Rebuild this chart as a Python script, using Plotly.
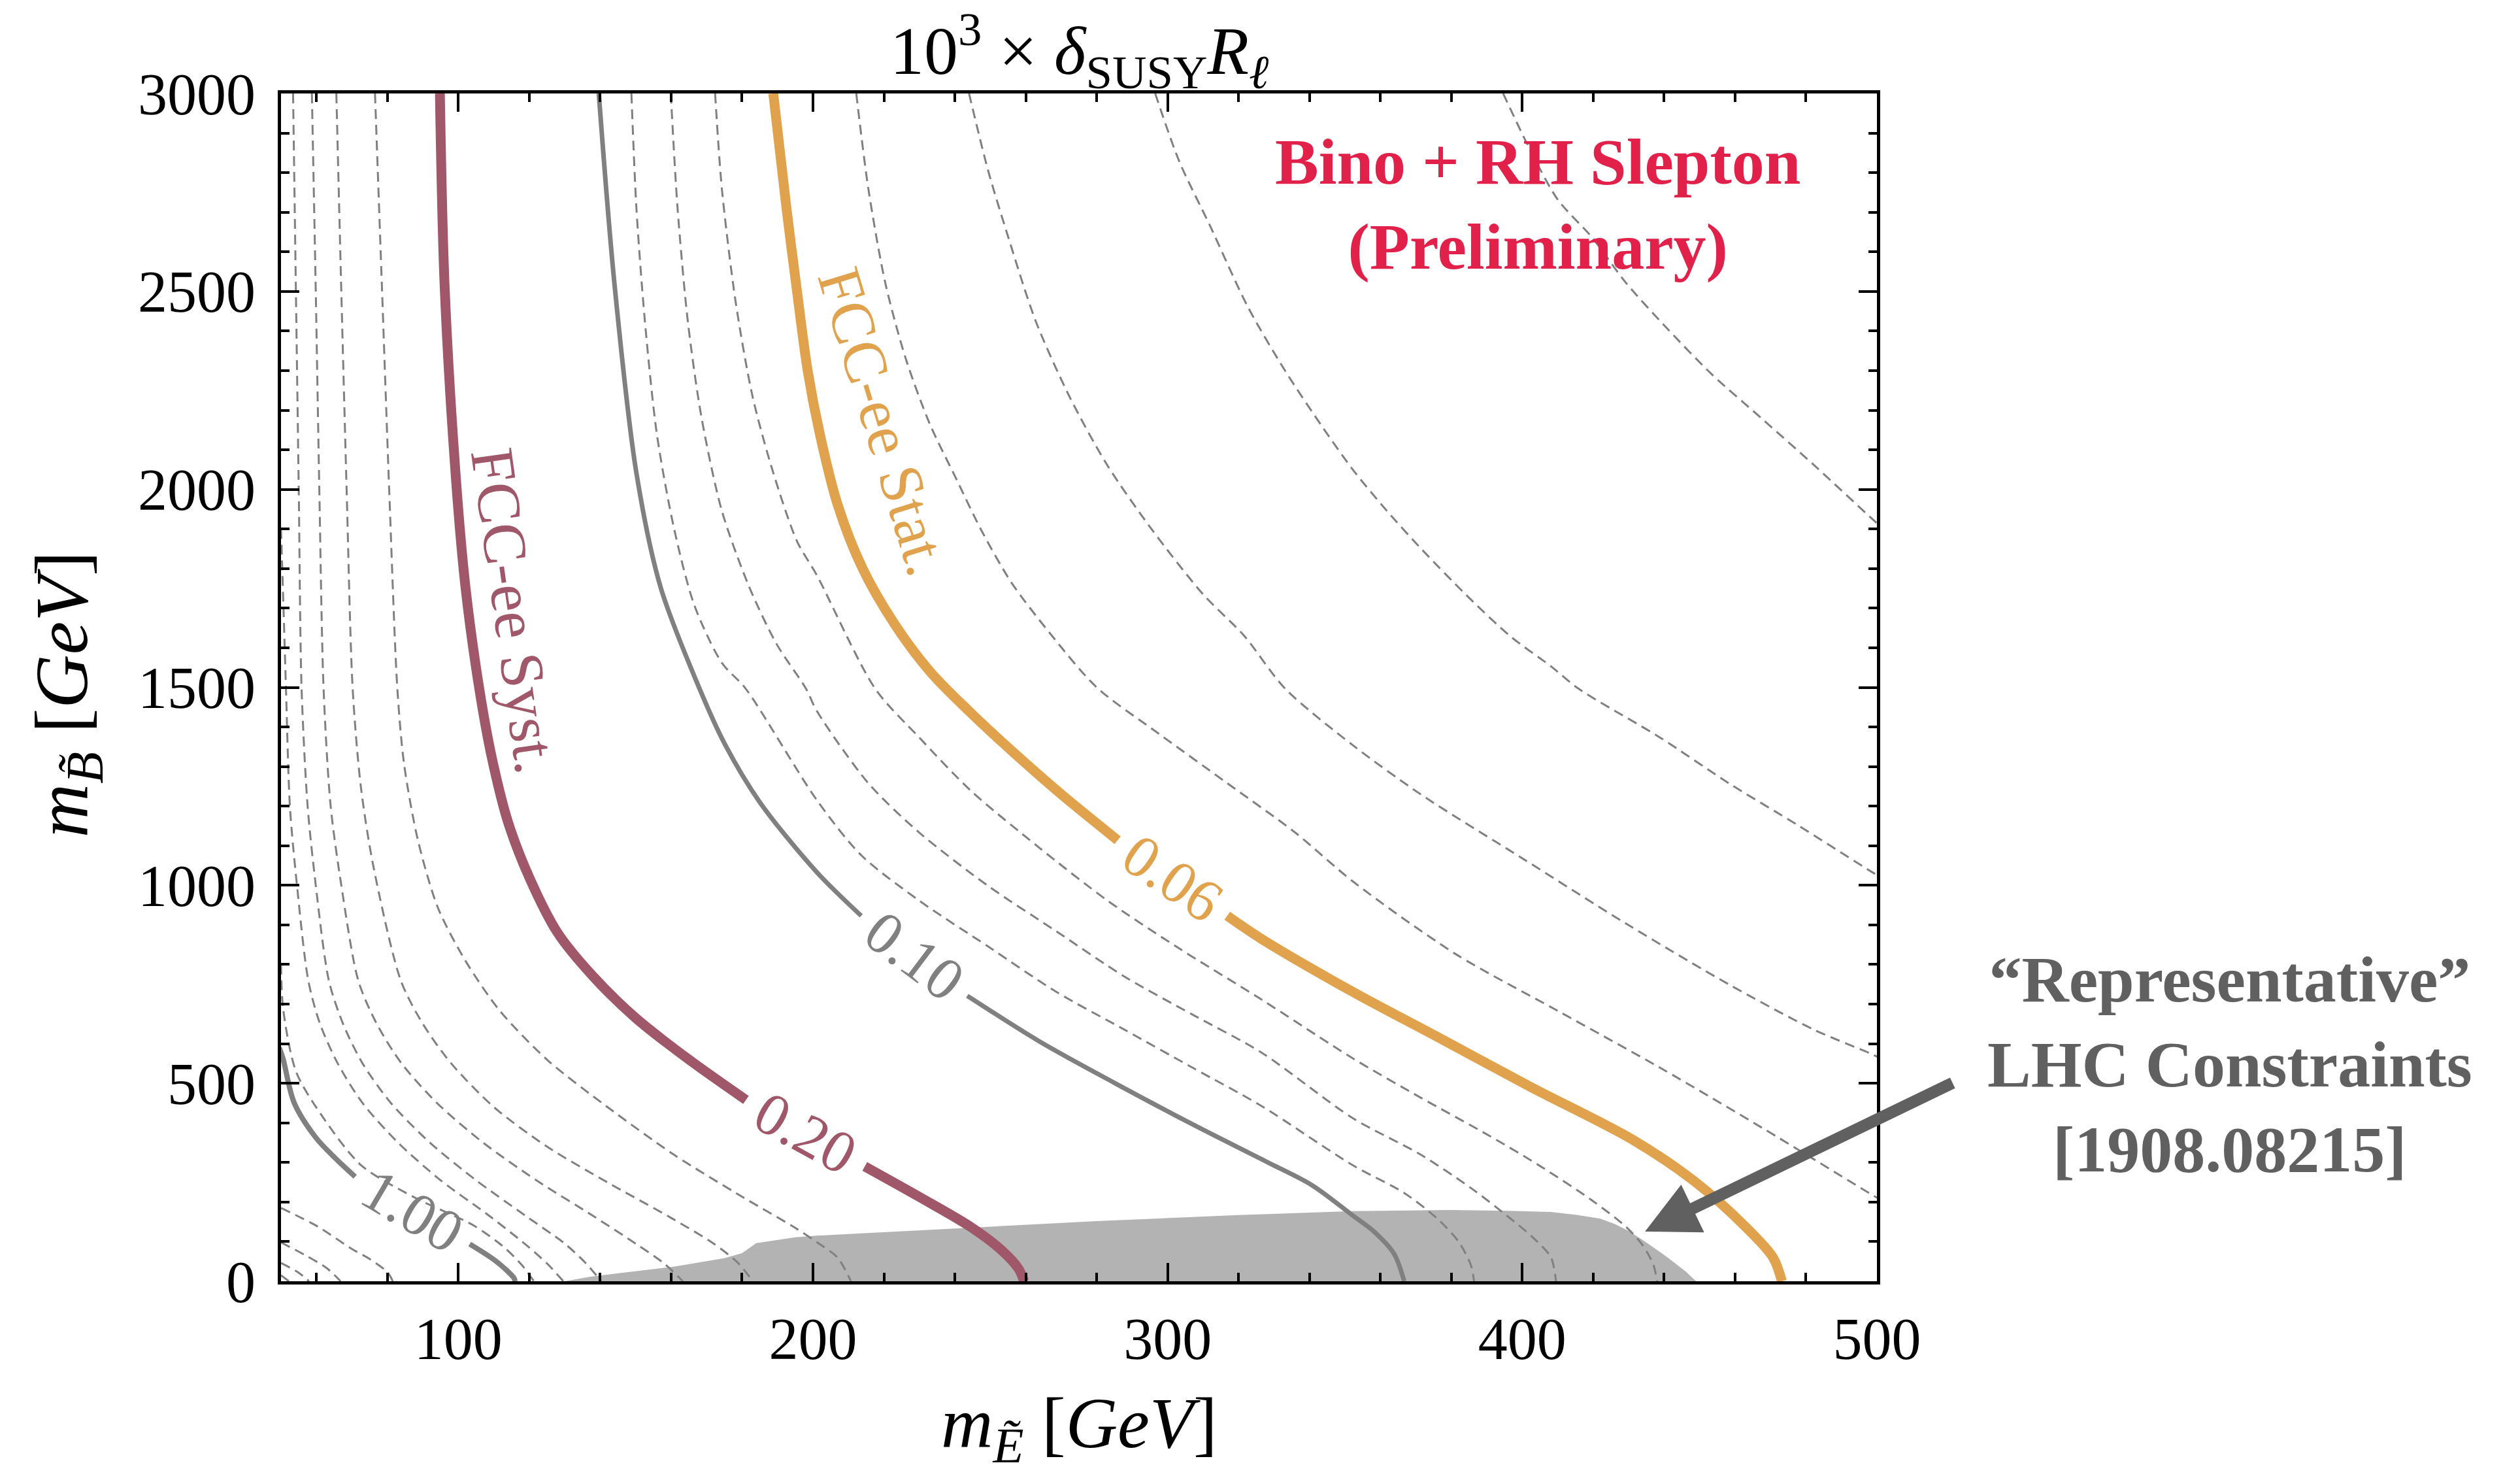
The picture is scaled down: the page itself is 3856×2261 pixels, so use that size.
import plotly.graph_objects as go

FONT = "Liberation Serif, DejaVu Serif, serif"

# ---------------- axes ----------------
x_range = [50, 500]
y_range = [0, 3000]
x_ticks = [100, 200, 300, 400, 500]
y_ticks = [0, 500, 1000, 1500, 2000, 2500, 3000]

# ---------------- LHC excluded region ----------------
lhc_x = [130, 137, 146, 161, 175, 180, 184, 195, 201, 240, 280, 320, 352, 380, 396, 408, 415, 422, 426, 430, 435, 441, 446, 449, 130]
lhc_y = [0, 11, 21, 37, 58, 71, 96, 111, 115, 133, 152, 167, 177, 180, 178, 175, 168, 158, 145, 127, 98, 60, 25, 0, 0]

# ---------------- solid (labelled) contours ----------------
c100_x_a = [49.5, 50.6, 53.7, 59.8, 65.4, 70.9]
c100_y_a = [590, 561, 451, 363, 310, 264]
c100_x_b = [103.2, 110.8, 115.7, 116.0]
c100_y_b = [94, 49.5, 8, 0]

c020_x_a = [94.8, 96.1, 99.2, 102.0, 105.9, 109.5, 114.0, 120.0, 128.0, 138.0, 150.0, 165.0, 181.1]
c020_y_a = [3000, 2521, 2042, 1754, 1497, 1320, 1160, 1020, 880, 770, 665, 560, 458]
c020_x_b = [214.6, 230.0, 244.5, 253.1, 258.0, 259.5]
c020_y_b = [290, 213, 137, 79, 31, 0]

c010_x_a = [139.6, 144.0, 150.2, 157.0, 168.0, 175.3, 185.0, 201.1, 213.6]
c010_y_a = [3000, 2521, 2042, 1754, 1497, 1354, 1210, 1033, 923]
c010_x_b = [243.5, 263.8, 285.0, 307.1, 328.3, 340.8, 352.2, 358.0, 363.8, 366.7]
c010_y_b = [721, 606, 501, 396, 300, 242, 166, 127, 70, 0]

c006_x_a = [188.8, 192.5, 195.5, 198.5, 202.0, 207.0, 214.0, 223.0, 233.0, 244.0, 256.0, 270.0, 285.9]
c006_y_a = [3000, 2712, 2500, 2300, 2137, 1960, 1800, 1660, 1540, 1440, 1340, 1230, 1114]
c006_x_b = [316.8, 326.4, 352.2, 376.3, 402.3, 431.2, 448.6, 463.0, 470.7, 473.2]
c006_y_b = [923, 865, 731, 616, 491, 357, 252, 137, 60, 0]

# ---------------- dashed contours ----------------
d_c1_x = [50, 60.4, 69.7, 75.2, 80.1, 81.5]
d_c1_y = [185, 138, 83, 55, 22, 0]
d_c2_x = [50, 56.8, 62.9, 66.8]
d_c2_y = [98, 66, 33, 0]
d_c3_x = [50, 54.9, 57.9]
d_c3_y = [46, 22, 0]
d_c4_x = [50, 52.2]
d_c4_y = [15, 0]

d_l1_x = [50, 50.6, 54.3, 62.3, 72.7, 88, 104.5, 113, 118, 121.3]
d_l1_y = [800, 688, 528, 408, 292, 210, 140, 85, 40, 0]
d_l2_x = [50, 50.7, 51.4, 52.5, 54.5, 57.7, 61, 66, 73, 83, 95, 108, 118, 125, 129.6]
d_l2_y = [1900, 1700, 1497, 1200, 1000, 759, 650, 550, 450, 350, 255, 170, 100, 45, 0]
d_t1_x = [53.4, 54.2, 55.0, 55.8, 57.5, 59.8, 63.5, 67.5, 73, 81, 92, 105, 119, 130, 136, 140.3]
d_t1_y = [3000, 2500, 2000, 1497, 1200, 1000, 759, 650, 550, 450, 350, 255, 165, 95, 45, 0]
d_t2_x = [58.7, 59.8, 60.8, 62.0, 64, 67, 71.8, 77, 84, 94, 107, 122, 138, 150, 158, 163.3]
d_t2_y = [3000, 2500, 2000, 1497, 1200, 1000, 759, 650, 550, 450, 350, 255, 165, 95, 45, 0]
d_t3_x = [65.6, 67.0, 68.5, 70.2, 72.5, 76, 83.8, 90, 98, 110, 125, 142, 160, 172, 179, 183]
d_t3_y = [3000, 2500, 2000, 1497, 1250, 1050, 759, 650, 550, 440, 340, 250, 160, 95, 45, 0]
d_t4_x = [76.5, 78.5, 80.5, 82.8, 84.7, 88.6, 94.3, 102.1, 111.7, 125.2, 141.6, 160.9, 180.1, 194.6, 201.1, 206.9, 210.7]
d_t4_y = [3000, 2500, 2000, 1497, 1306, 1114, 942, 808, 683, 558, 443, 319, 213, 137, 98.5, 60, 0]

d_g1_x = [148.8, 150.2, 152.6, 156.0, 160.9, 166.6, 174.3, 181.0, 201.1, 213.6, 230.0, 249.3, 268.6, 287.9, 307.1, 326.4, 352.2, 366.7, 376.3, 382.1, 385.5, 386.4]
d_g1_y = [3000, 2712, 2425, 2138, 1898, 1706, 1562, 1497, 1215, 1076, 961, 846, 731, 635, 539, 443, 293, 223, 156, 99, 41, 0]
d_g2_x = [159.9, 161.8, 164.7, 168.5, 174.3, 182.0, 189.7, 198.0, 201.1, 215.6, 230.0, 249.3, 268.6, 287.9, 307.1, 326.4, 352.2, 371.5, 385.9, 395.6, 403.3, 408.1, 409.5]
d_g2_y = [3000, 2712, 2425, 2185, 1946, 1754, 1610, 1497, 1440, 1258, 1133, 999, 884, 769, 673, 578, 412, 319, 233, 166, 108, 60, 0]
d_g3_x = [172.4, 174.3, 178.2, 183.0, 188.8, 195.5, 201.1, 217.5, 230.0, 244.5, 263.8, 283.1, 302.3, 326.4, 352.2, 371.5, 390.8, 405.2, 419.7, 429.3, 434.1, 437.0, 438.0]
d_g3_y = [3000, 2760, 2473, 2233, 2042, 1869, 1783, 1497, 1373, 1239, 1095, 961, 846, 712, 563, 463, 367, 290, 204, 137, 89, 41, 0]

d_r1_x = [212.2, 215.6, 220.4, 226.2, 232.9, 240.6, 247.4, 256.0, 266.6, 280.0, 297.5, 316.8, 336.0, 352.2, 381.1, 410.0, 438.9, 467.9, 498.7, 505]
d_r1_y = [3000, 2760, 2521, 2329, 2166, 2023, 1898, 1764, 1639, 1500, 1383, 1258, 1133, 1010, 827, 683, 539, 386, 218, 185]
d_r2_x = [244.0, 249.3, 255.1, 262.8, 272.4, 283.0, 295.6, 310.0, 321.6, 333.1, 352.2, 371.5, 400.4, 429.3, 458.2, 482.3, 498.7, 505]
d_r2_y = [3000, 2808, 2636, 2425, 2233, 2061, 1898, 1735, 1630, 1497, 1354, 1229, 1066, 903, 750, 635, 573, 545]
d_r3_x = [296.5, 303.3, 312.0, 322.5, 333.1, 343.7, 352.2, 361.8, 371.5, 384.0, 396.5, 408.1, 415.8, 438.9, 458.2, 477.5, 498.7, 505]
d_r3_y = [3000, 2828, 2665, 2463, 2300, 2157, 2050, 1946, 1850, 1735, 1630, 1553, 1497, 1373, 1258, 1153, 1033, 1000]
d_r4_x = [394.6, 402.3, 410.0, 419.7, 429.3, 440.9, 453.4, 467.9, 482.3, 499.7, 505]
d_r4_y = [3000, 2856, 2732, 2636, 2521, 2406, 2291, 2176, 2061, 1917, 1875]

# contour value labels: text, x, y, angle
label_text = ["1.00", "0.20", "0.10", "0.06"]
label_x = [87.1, 197.8, 228.6, 301.4]
label_y = [179, 374, 822, 1019]
label_angle = [30.5, 29, 37, 34.6]

MAROON = "#A05769"
ORANGE = "#E0A24C"
GRAY = "#808080"
LABEL_COLORS = [GRAY, MAROON, GRAY, ORANGE]

fig = go.Figure()

fig.add_trace(go.Scatter(x=lhc_x, y=lhc_y, fill="toself", fillcolor="#B3B3B3",
                         mode="lines", line=dict(width=0), hoverinfo="skip", showlegend=False))

dashed = [
    (d_c1_x, d_c1_y), (d_c2_x, d_c2_y), (d_c3_x, d_c3_y), (d_c4_x, d_c4_y),
    (d_l1_x, d_l1_y), (d_l2_x, d_l2_y), (d_t1_x, d_t1_y), (d_t2_x, d_t2_y),
    (d_t3_x, d_t3_y), (d_t4_x, d_t4_y), (d_g1_x, d_g1_y), (d_g2_x, d_g2_y),
    (d_g3_x, d_g3_y), (d_r1_x, d_r1_y), (d_r2_x, d_r2_y), (d_r3_x, d_r3_y),
    (d_r4_x, d_r4_y),
]
for xs, ys in dashed:
    fig.add_trace(go.Scatter(x=xs, y=ys, mode="lines",
                             line=dict(color=GRAY, width=3, dash="15px,9px", shape="spline", smoothing=0.8),
                             hoverinfo="skip", showlegend=False))

solid = [
    (c100_x_a, c100_y_a, GRAY, 8), (c100_x_b, c100_y_b, GRAY, 8),
    (c010_x_a, c010_y_a, GRAY, 7), (c010_x_b, c010_y_b, GRAY, 7),
    (c020_x_a, c020_y_a, MAROON, 15), (c020_x_b, c020_y_b, MAROON, 15),
    (c006_x_a, c006_y_a, ORANGE, 15), (c006_x_b, c006_y_b, ORANGE, 15),
]
for xs, ys, col, w in solid:
    fig.add_trace(go.Scatter(x=xs, y=ys, mode="lines",
                             line=dict(color=col, width=w, shape="spline", smoothing=0.9),
                             hoverinfo="skip", showlegend=False))

annotations = []
for t, x, y, a, c in zip(label_text, label_x, label_y, label_angle, LABEL_COLORS):
    annotations.append(dict(x=x, y=y, xref="x", yref="y", text=t, showarrow=False,
                            textangle=a, xanchor="center", yanchor="middle",
                            font=dict(family=FONT, size=92, color=c)))

annotations.append(dict(x=115.8, y=1694, xref="x", yref="y", text="FCC-ee Syst.", showarrow=False,
                        textangle=82, xanchor="center", yanchor="middle",
                        font=dict(family=FONT, size=94, color=MAROON)))
annotations.append(dict(x=219.9, y=2171, xref="x", yref="y", text="FCC-ee Stat.", showarrow=False,
                        textangle=73, xanchor="center", yanchor="middle",
                        font=dict(family=FONT, size=94, color=ORANGE)))

# title
annotations.append(dict(x=0.5, y=1.036, xref="paper", yref="paper", showarrow=False,
                        xanchor="center", yanchor="middle",
                        text="10<sup>3</sup> × <i>δ</i><sub>SUSY</sub><i>R</i><sub><i>ℓ</i></sub>",
                        font=dict(family=FONT, size=104, color="black")))
# axis titles
annotations.append(dict(x=0.5, y=-0.124, xref="paper", yref="paper", showarrow=False,
                        xanchor="center", yanchor="middle",
                        text="<i>m</i><sub><i>Ẽ</i></sub> [<i>GeV</i>]",
                        font=dict(family=FONT, size=110, color="black")))
annotations.append(dict(x=-0.134, y=0.494, xref="paper", yref="paper", showarrow=False,
                        xanchor="center", yanchor="middle", textangle=-90,
                        text="<i>m</i><sub><i>B̃</i></sub> [<i>GeV</i>]",
                        font=dict(family=FONT, size=114, color="black")))
# model text
annotations.append(dict(x=0.7875, y=0.9067, xref="paper", yref="paper", showarrow=False,
                        xanchor="center", yanchor="middle",
                        text="<b>Bino + RH Slepton</b><br><b>(Preliminary)</b>",
                        font=dict(family=FONT, size=100, color="#E1214A")))
# LHC text
annotations.append(dict(x=1.221, y=0.1827, xref="paper", yref="paper", showarrow=False,
                        xanchor="center", yanchor="middle",
                        text="<b>“Representative”</b><br><b>LHC Constraints</b><br><b>[1908.08215]</b>",
                        font=dict(family=FONT, size=100, color="#606060")))
# arrow
annotations.append(dict(x=434.6, y=125.5, ax=521.6, ay=502, xref="x", yref="y", axref="x", ayref="y",
                        text="", showarrow=True, arrowhead=2, arrowsize=0.9, arrowwidth=18,
                        arrowcolor="#606060"))

axis_common = dict(showgrid=False, zeroline=False, showline=True, linewidth=5, linecolor="black",
                   mirror="allticks", ticks="inside", ticklen=28, tickwidth=4, tickcolor="black",
                   tickfont=dict(family=FONT, size=90, color="black"))

fig.update_layout(
    width=3856, height=2261,
    margin=dict(l=430, r=984, t=143, b=301),
    paper_bgcolor="white", plot_bgcolor="white",
    showlegend=False,
    annotations=annotations,
    xaxis=dict(range=x_range, tickvals=x_ticks, ticklabelstandoff=6,
               minor=dict(tick0=0, dtick=20, ticks="inside", ticklen=13, tickwidth=3.5, tickcolor="black"),
               **axis_common),
    yaxis=dict(range=y_range, tickvals=y_ticks, ticklabelstandoff=16,
               minor=dict(tick0=0, dtick=100, ticks="inside", ticklen=13, tickwidth=3.5, tickcolor="black"),
               **axis_common),
)

fig.write_html("out.html")
